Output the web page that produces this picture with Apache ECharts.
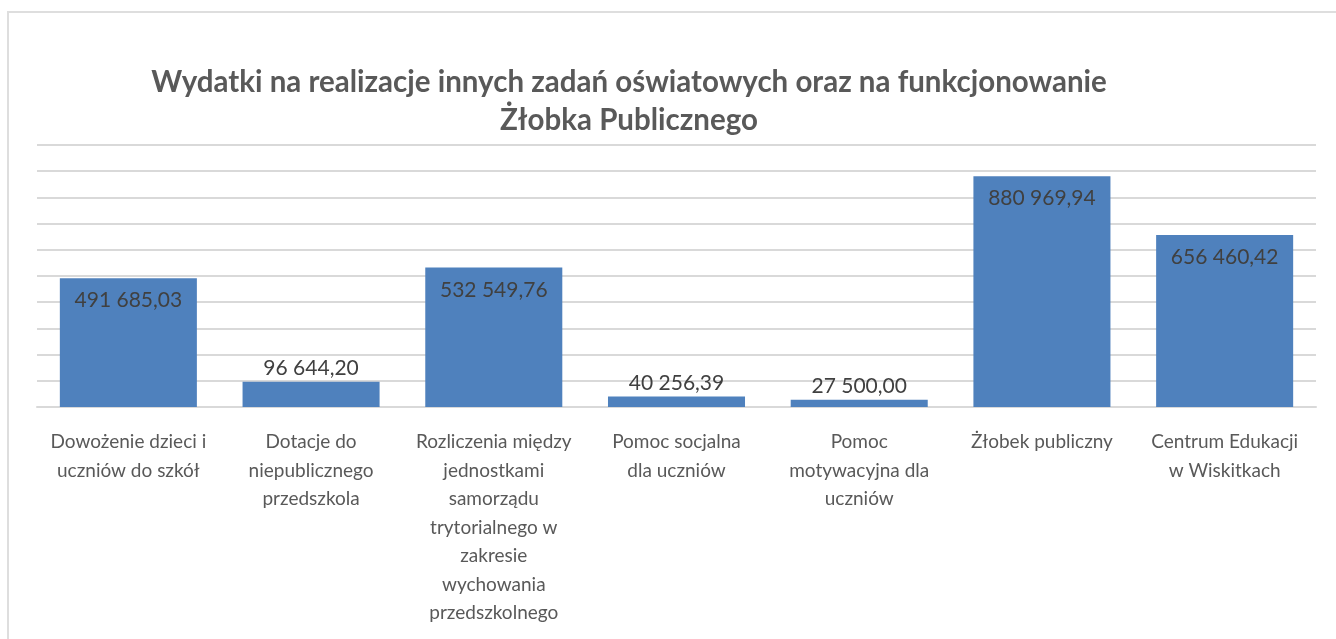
<!DOCTYPE html>
<html>
<head>
<meta charset="utf-8">
<script src="https://cdn.jsdelivr.net/npm/echarts@6/dist/echarts.min.js"></script>
<style>
    html, body { margin: 0; padding: 0; background: #fff; }
    #frame { position: absolute; left: 7px; top: 11px; right: 0; bottom: 0; border-top: 2px solid #dedede; border-left: 2px solid #dedede; }
    #main { position: absolute; left: 0; top: 0; width: 1336px; height: 639px; }
</style>
</head>
<body>
<div id="frame"></div>
<div id="main"></div>
<script>
// dane wykresu
var categories = [
    'Dowożenie dzieci i\nuczniów do szkół',
    'Dotacje do\nniepublicznego\nprzedszkola',
    'Rozliczenia między\njednostkami\nsamorządu\ntrytorialnego w\nzakresie\nwychowania\nprzedszkolnego',
    'Pomoc socjalna\ndla uczniów',
    'Pomoc\nmotywacyjna dla\nuczniów',
    'Żłobek publiczny',
    'Centrum Edukacji\nw Wiskitkach'
];
var values = [491685.03, 96644.20, 532549.76, 40256.39, 27500.00, 880969.94, 656460.42];
// etykiety wewnątrz słupka dla dużych wartości
var labelInside = [true, false, true, false, false, true, true];

var titleText = 'Wydatki na realizacje innych zadań oświatowych oraz na funkcjonowanie\nŻłobka Publicznego';

function formatPL(v) {
    var parts = v.toFixed(2).split('.');
    return parts[0].replace(/\B(?=(\d{3})+(?!\d))/g, ' ') + ',' + parts[1];
}

var myChart = echarts.init(document.getElementById('main'));

var seriesData = values.map(function (v, i) {
    return {
        value: v,
        label: labelInside[i]
            ? { position: 'insideTop', distance: 12 }
            : { position: 'top', distance: 3 }
    };
});

var option = {
    animation: false,
    textStyle: { fontFamily: 'Lato' },
    title: {
        text: titleText,
        left: 624,
        textAlign: 'center',
        top: 58,
        textStyle: {
            fontFamily: 'Lato',
            fontSize: 29.5,
            fontWeight: 'bold',
            color: '#595959',
            lineHeight: 38
        }
    },
    grid: { left: 37, right: 20, top: 145, bottom: 232, containLabel: false },
    xAxis: {
        type: 'category',
        data: categories,
        axisTick: { show: false },
        axisLine: { lineStyle: { color: '#d9d9d9', width: 2 } },
        axisLabel: {
            interval: 0,
            color: '#595959',
            fontSize: 19,
            lineHeight: 28.5,
            margin: 21,
            fontFamily: 'Lato'
        }
    },
    yAxis: {
        type: 'value',
        min: 0,
        max: 1000000,
        interval: 100000,
        axisLabel: { show: false },
        axisLine: { show: false },
        axisTick: { show: false },
        splitLine: { lineStyle: { color: '#d9d9d9', width: 2 } }
    },
    series: [{
        type: 'bar',
        data: seriesData,
        barCategoryGap: '25%',
        itemStyle: { color: '#4f81bd' },
        label: {
            show: true,
            color: '#404040',
            fontSize: 21,
            fontFamily: 'Lato',
            formatter: function (p) { return formatPL(p.value); }
        }
    }]
};

myChart.setOption(option);
</script>
</body>
</html>
